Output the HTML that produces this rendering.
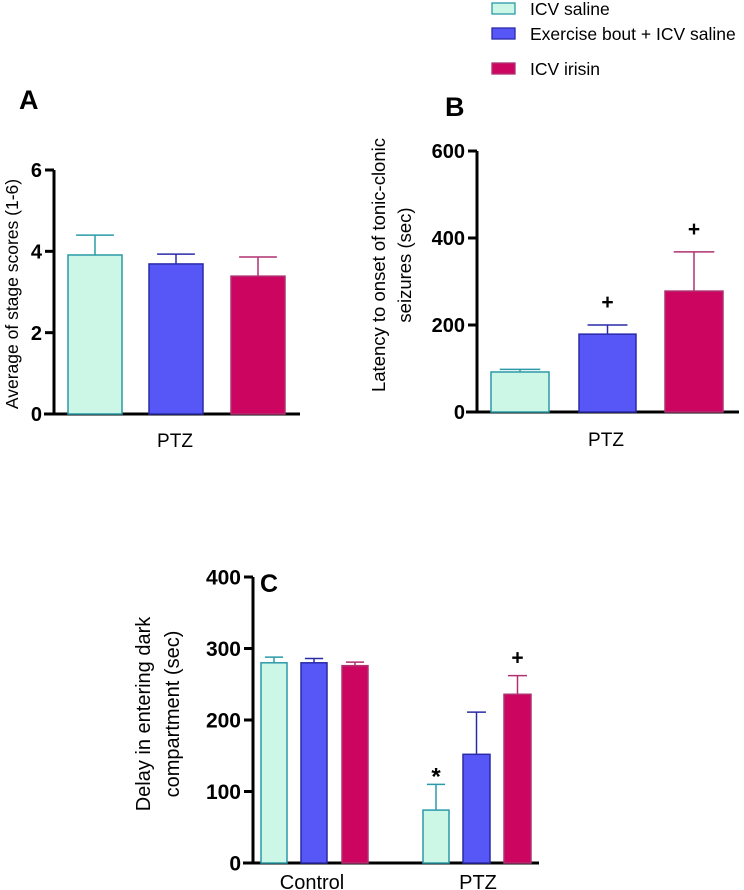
<!DOCTYPE html>
<html><head><meta charset="utf-8"><style>
body{margin:0;background:#fff;}
svg{display:block;font-family:"Liberation Sans",Arial,sans-serif;}
</style></head><body>
<svg id="fig" width="744" height="890" viewBox="0 0 744 890" xmlns="http://www.w3.org/2000/svg">
<g>
 <rect x="492" y="3" width="23" height="11" fill="#ccf7e6" stroke="#2a9aa8" stroke-width="1.3"/>
 <text x="530" y="15" font-size="17.5">ICV saline</text>
 <rect x="492" y="28" width="23" height="11" fill="#5757f7" stroke="#2a2aa8" stroke-width="1.3"/>
 <text x="530" y="40" font-size="17.5">Exercise bout + ICV saline</text>
 <rect x="492" y="63" width="23" height="11" fill="#cc0660" stroke="#b03070" stroke-width="1.3"/>
 <text x="530" y="75" font-size="17.5">ICV irisin</text>
</g>
<text x="19" y="109" font-size="27" font-weight="bold">A</text>
<text x="445" y="116" font-size="27" font-weight="bold">B</text>
<text x="260" y="592" font-size="25" font-weight="bold">C</text>
<g id="chartA"></g>
<g id="chartB"></g>
<g id="chartC"></g>
</svg>
<script>
const groupNames=["ICV saline","Exercise bout + ICV saline","ICV irisin"];
const aMeans=[3.91,3.69,3.39];
const aErr=[0.49,0.24,0.47];
const aTicks=[0,2,4,6];
const bMeans=[92,179,278];
const bErr=[6,21,90];
const bTicks=[0,200,400,600];
const bMarks=["","+","+"];
const cCategories=["Control","PTZ"];
const cMeansControl=[280,280,276];
const cErrControl=[8,6,5];
const cMeansPTZ=[74,152,236];
const cErrPTZ=[36,59,26];
const cTicks=[0,100,200,300,400];
const cMarksPTZ=["*","","+"];

const NS="http://www.w3.org/2000/svg";
const fills=["#ccf7e6","#5757f7","#cc0660"];
const strokes=["#2a9aa8","#2a2aa8","#b03070"];
function mk(p,t,a){const e=document.createElementNS(NS,t);for(const k in a)e.setAttribute(k,a[k]);p.appendChild(e);return e;}

function drawAxis(g,cfg){
  const y=v=>cfg.y0-(v/cfg.max)*(cfg.y0-cfg.yTop);
  const ax=mk(g,'line',{x1:cfg.ax,y1:cfg.yTop,x2:cfg.ax,y2:cfg.y0+1.5,stroke:'#000','stroke-width':3});
  
  
  const xl=mk(g,'line',{x1:cfg.xStart,y1:cfg.y0,x2:cfg.xEnd,y2:cfg.y0,stroke:'#000','stroke-width':3});
  
  
  cfg.ticks.forEach(t=>{
    const tl=mk(g,'line',{x1:cfg.ax-9,y1:y(t),x2:cfg.ax,y2:y(t),stroke:'#000','stroke-width':3});
    
    
    const tx=mk(g,'text',{x:cfg.ax-12,y:y(t)+cfg.fs*0.36,'text-anchor':'end','font-size':cfg.fs,'font-weight':'bold'});
    tx.textContent=t;
    
    
  });
  return y;
}
function drawBar(g,y,x0,x1,v,e,i,mark,markY){
  const cx=(x0+x1)/2,w=(x1-x0)*0.35;
  const el=mk(g,'line',{x1:cx,y1:y(v),x2:cx,y2:y(v+e),stroke:strokes[i],'stroke-width':1.5});
  
  
  const cap=mk(g,'line',{x1:cx-w,y1:y(v+e),x2:cx+w,y2:y(v+e),stroke:strokes[i],'stroke-width':1.5});
  
  
  const r=mk(g,'rect',{x:x0,y:y(v),width:x1-x0,height:y(0)-y(v),fill:fills[i],stroke:strokes[i],'stroke-width':1.5});
  
  
  if(mark){
    const m=mk(g,'text',{x:cx,y:markY(v+e),'text-anchor':'middle','font-size':mark==='*'?24:21,'font-weight':'bold'});
    m.textContent=mark;
    
    
  }
}
function txt(g,x,y,s,fs,name,rot){
  const t=mk(g,'text',{x:x,y:y,'text-anchor':'middle','font-size':fs});
  if(rot)t.setAttribute('transform','rotate(-90 '+x+' '+y+')');
  t.textContent=s;
  
  
}
// A
(function(){
  const g=document.getElementById('chartA');
  const y=drawAxis(g,{ax:54,y0:414,yTop:170,max:6,ticks:aTicks,xStart:44,xEnd:300,fs:20});
  const xs=[[68,122],[149,203],[231,285]];
  aMeans.forEach((v,i)=>drawBar(g,y,xs[i][0],xs[i][1],v,aErr[i],i,"",null));
  txt(g,175,447,"PTZ",19,'x-category-label');
  txt(g,18,294,"Average of stage scores (1-6)",17.5,'y-axis-title',true);
})();
// B
(function(){
  const g=document.getElementById('chartB');
  const y=drawAxis(g,{ax:477,y0:412,yTop:151,max:600,ticks:bTicks,xStart:466,xEnd:739,fs:20});
  const xs=[[491,549],[579,636],[665,723]];
  bMeans.forEach((v,i)=>drawBar(g,y,xs[i][0],xs[i][1],v,bErr[i],i,bMarks[i],vv=>y(vv)-16));
  txt(g,606,446,"PTZ",19,'x-category-label');
  txt(g,385,265,"Latency to onset of tonic-clonic",18.5,'y-axis-title-line1',true);
  txt(g,411,265,"seizures (sec)",18.5,'y-axis-title-line2',true);
})();
// C
(function(){
  const g=document.getElementById('chartC');
  const y=drawAxis(g,{ax:253,y0:863,yTop:577,max:400,ticks:cTicks,xStart:243,xEnd:539,fs:21});
  const xc=[[261,287],[301,327],[342,368]];
  const xp=[[423,449],[463,490],[504,531]];
  cMeansControl.forEach((v,i)=>drawBar(g,y,xc[i][0],xc[i][1],v,cErrControl[i],i,"",null));
  cMeansPTZ.forEach((v,i)=>drawBar(g,y,xp[i][0],xp[i][1],v,cErrPTZ[i],i,cMarksPTZ[i],vv=>y(vv)-(cMarksPTZ[i]==='*'?0:11)));
  txt(g,312,889,cCategories[0],20,'x-category-label-control');
  txt(g,478,889,cCategories[1],20,'x-category-label-ptz');
  txt(g,150,714,"Delay in entering dark",20,'y-axis-title-line1',true);
  txt(g,179,714,"compartment (sec)",20,'y-axis-title-line2',true);
})();
</script>
</body></html>
